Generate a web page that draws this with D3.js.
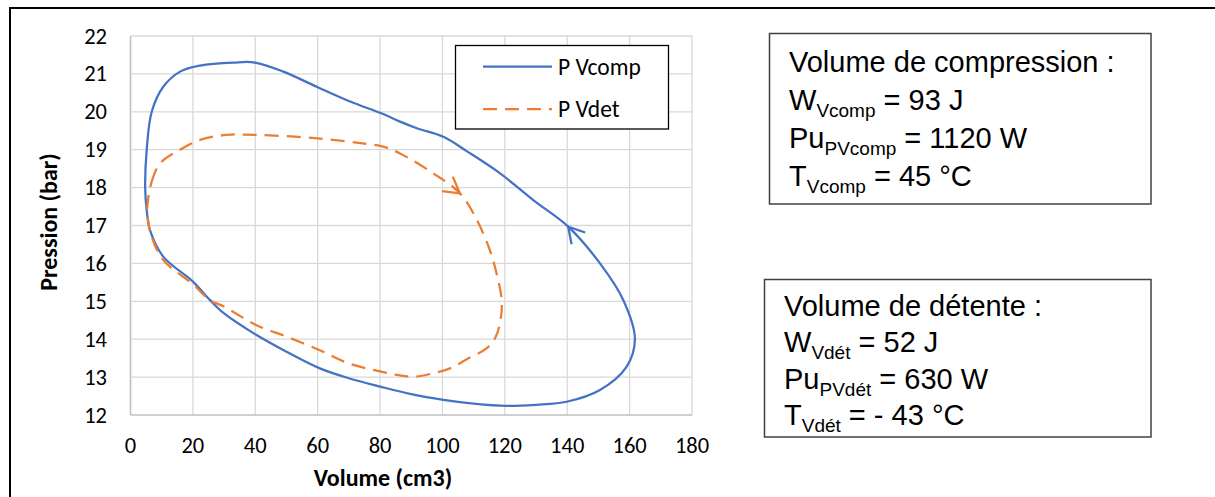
<!DOCTYPE html>
<html><head><meta charset="utf-8">
<script src="https://cdn.jsdelivr.net/npm/d3@7"></script>
<style>body{margin:0;background:#fff}svg{display:block}</style>
</head><body><svg id="c" width="1215" height="497"></svg>
<script>
// ---- data ----
const xTicks = [0,20,40,60,80,100,120,140,160,180];
const yTicks = [12,13,14,15,16,17,18,19,20,21,22];
const seriesNames = ["P Vcomp","P Vdet"];
// P Vcomp loop (volume cm3, pressure bar), counter-clockwise
const compV = [161.7,158,150.5,140.3,129.1,118.4,108,100.3,92,86.4,81,70.4,59.7,49,39.9,33,22.3,15.9,10.5,6.8,5.2,4.7,5.2,6.25,10.5,20,25.5,30,40.4,50,60.7,70,80,90,100.3,110,120.6,130,139.8,150.5,159];
const compP = [14.0,15.03,16.0,16.97,17.67,18.38,18.95,19.34,19.56,19.74,19.94,20.27,20.66,21.06,21.3,21.3,21.22,21.06,20.66,20.0,19.0,18.0,17.4,16.88,16.18,15.52,15.03,14.68,14.11,13.67,13.23,12.97,12.75,12.55,12.4,12.3,12.24,12.27,12.35,12.66,13.27];
// P Vdet loop, clockwise
const detV = [5.4,6.8,9.5,15.9,22.3,30.8,40,60,75.7,81,86.4,97,105.6,111,115.2,117.3,119,118.6,117,114,108,102.4,97,91,86,80,70,60.7,50,40.4,30,25.5,20,10.5,6.8,5.6];
const detP = [17.5,18.16,18.64,19.0,19.26,19.39,19.39,19.3,19.15,19.08,18.9,18.38,17.85,17.15,16.35,15.75,15.03,14.5,14.05,13.75,13.48,13.23,13.1,13.01,13.05,13.15,13.36,13.71,14.07,14.37,14.86,15.03,15.45,16.09,16.7,17.15];
// arrow: index of vertex in each loop
const arrowIdx = [3, 12];
const xTitle = "Volume (cm3)";
const yTitle = "Pression (bar)";
const box1 = [["Volume de compression :",""," "],["W","Vcomp"," = 93 J"],["Pu","PVcomp"," = 1120 W"],["T","Vcomp"," = 45 °C"]];
const box2 = [["Volume de détente :",""," "],["W","Vdét"," = 52 J"],["Pu","PVdét"," = 630 W"],["T","Vdét"," = - 43 °C"]];

const svg = d3.select("#c");
const x = d3.scaleLinear().domain([0,180]).range([130.5,692]);
const y = d3.scaleLinear().domain([12,22]).range([415,36]);
const fontC = "Carlito, Calibri, Lato, sans-serif";

// outer frame
svg.append("path").attr("d","M10,500 V8 H1220").attr("fill","none").attr("stroke","#000").attr("stroke-width",2);

// grid
const g = svg.append("g");
g.selectAll(".vx").data(xTicks).join("line")
  .attr("x1",d=>x(d)).attr("x2",d=>x(d)).attr("y1",y(12)).attr("y2",y(22))
  .attr("stroke",d=>d===0?"#bfbfbf":"#d9d9d9").attr("stroke-width",d=>d===0?1.6:1.3);
g.selectAll(".hy").data(yTicks).join("line")
  .attr("x1",x(0)).attr("x2",x(180)).attr("y1",d=>y(d)).attr("y2",d=>y(d))
  .attr("stroke",d=>d===12?"#bfbfbf":"#d9d9d9").attr("stroke-width",d=>d===12?1.6:1.3);

// tick labels
g.selectAll(".xl").data(xTicks).join("text")
  .attr("x",d=>x(d)).attr("y",453).attr("text-anchor","middle")
  .attr("font-family",fontC).attr("font-size",22.5).attr("fill","#000").text(d=>d);
g.selectAll(".yl").data(yTicks).join("text")
  .attr("x",107).attr("y",d=>y(d)+7.5).attr("text-anchor","end")
  .attr("font-family",fontC).attr("font-size",22.5).attr("fill","#000").text(d=>d);

// axis titles
svg.append("text").attr("x",383).attr("y",486).attr("text-anchor","middle")
  .attr("font-family",fontC).attr("font-weight","bold").attr("font-size",24).text(xTitle);
svg.append("text").attr("transform","translate(57,222) rotate(-90)").attr("text-anchor","middle")
  .attr("font-family",fontC).attr("font-weight","bold").attr("font-size",24).text(yTitle);

// curves
const colors = ["#4472C4","#ED7D31"];
const dashes = [null,"14,8"];
const loops = [d3.zip(compV,compP), d3.zip(detV,detP)];
const line = d3.line().x(d=>x(d[0])).y(d=>y(d[1])).curve(d3.curveCatmullRomClosed.alpha(0.5));
loops.forEach((pts,i)=>{
  svg.append("path").attr("d",line(pts)).attr("fill","none").attr("stroke",colors[i])
    .attr("stroke-width",2.25).attr("stroke-dasharray",dashes[i]).attr("stroke-linejoin","round");
  // arrow chevron
  const k = arrowIdx[i];
  const vx = x(pts[k][0]), vy = y(pts[k][1]);
  const px = x(pts[k-1][0]), py = y(pts[k-1][1]);
  const ang = Math.atan2(py-vy, px-vx);
  const L = 18, a = Math.PI/6;
  const p1 = [vx+L*Math.cos(ang+a), vy+L*Math.sin(ang+a)];
  const p2 = [vx+L*Math.cos(ang-a), vy+L*Math.sin(ang-a)];
  svg.append("path").attr("d",`M${p1}L${vx},${vy}L${p2}`).attr("fill","none")
    .attr("stroke",colors[i]).attr("stroke-width",2.25);
});

// legend
const lg = svg.append("g");
lg.append("rect").attr("x",455.5).attr("y",45.5).attr("width",213).attr("height",83.5)
  .attr("fill","#fff").attr("stroke","#000").attr("stroke-width",1.3);
seriesNames.forEach((n,i)=>{
  const yy = [66.7,109][i];
  lg.append("line").attr("x1",483).attr("x2",552).attr("y1",yy).attr("y2",yy)
    .attr("stroke",colors[i]).attr("stroke-width",2.25).attr("stroke-dasharray",dashes[i]);
  lg.append("text").attr("x",558).attr("y",yy+8).attr("font-family",fontC).attr("font-size",23.5).text(n);
});

// info boxes
function infoBox(lines, bx, by, bw, bh, x0, baselines){
  svg.append("rect").attr("x",bx).attr("y",by).attr("width",bw).attr("height",bh)
    .attr("fill","#fff").attr("stroke","#404040").attr("stroke-width",1.5);
  lines.forEach((l,i)=>{
    const t = svg.append("text").attr("x",x0).attr("y",baselines[i])
      .attr("font-family","Liberation Sans, Arial, sans-serif").attr("font-size",29).attr("fill","#000");
    t.append("tspan").text(l[0]);
    if(l[1]){
      t.append("tspan").attr("font-size",19).attr("dy",7).text(l[1]);
      t.append("tspan").attr("dy",-7).text(l[2]);
    }
  });
}
infoBox(box1, 769.5, 33.5, 381.5, 170.5, 789, [72,110,148,186]);
infoBox(box2, 764.5, 279.5, 386.5, 157.5, 784, [316,352,389,425]);
</script></body></html>
